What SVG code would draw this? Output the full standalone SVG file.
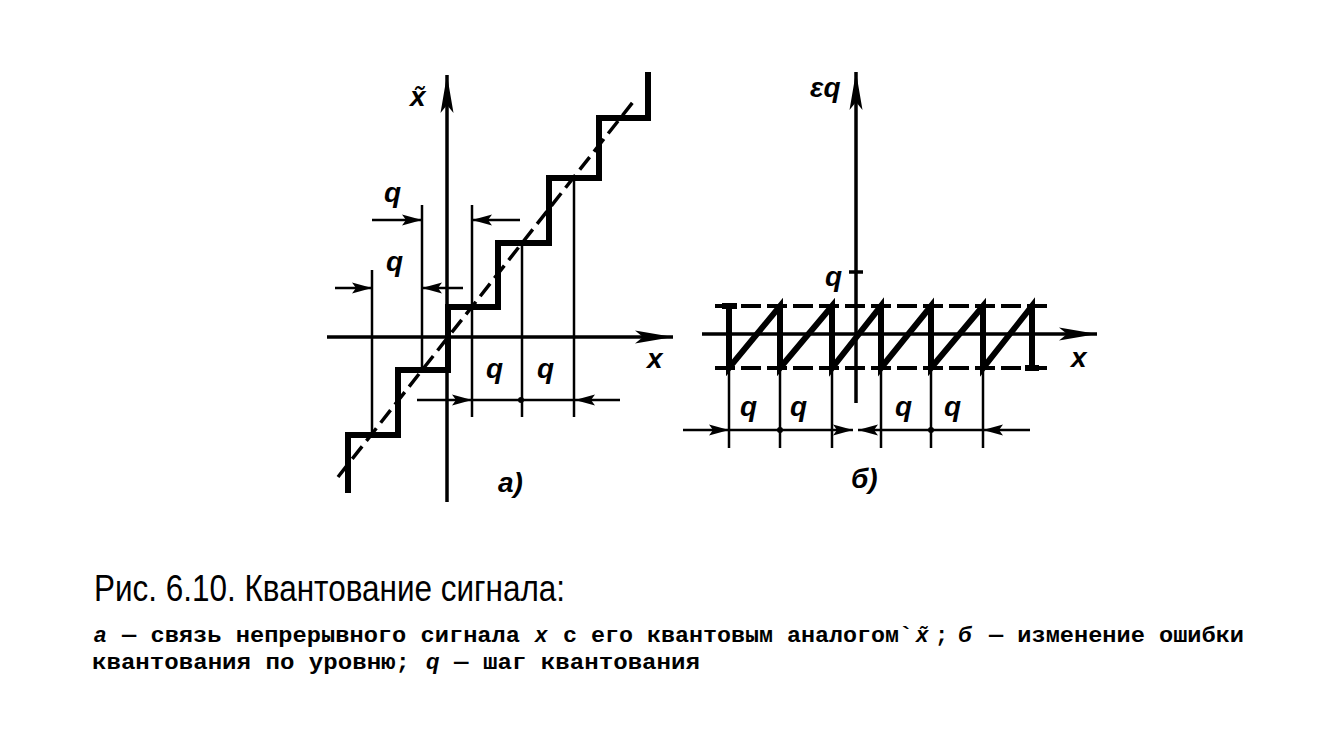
<svg xmlns="http://www.w3.org/2000/svg" width="1342" height="736" viewBox="0 0 1342 736">
<defs>
<style>
.bg{fill:#fff}
.thick{fill:none;stroke:#000;stroke-width:6;stroke-linejoin:miter;stroke-linecap:butt}
.axis{fill:none;stroke:#000;stroke-width:3.5}
.thin{fill:none;stroke:#000;stroke-width:2.5}
.dash{fill:none;stroke:#000;stroke-width:3.5;stroke-dasharray:16 7}
.dashb{fill:none;stroke:#000;stroke-width:4;stroke-dasharray:20 6}
.lbl{font-family:"Liberation Sans",Arial,sans-serif;font-style:italic;font-weight:bold;font-size:28px;fill:#000}
.cap1{font-family:"Liberation Sans",Arial,sans-serif;font-size:36px;fill:#000}
.cap{font-family:"Liberation Mono","Courier New",monospace;font-weight:bold;font-size:22px;fill:#000}
.it{font-family:"Liberation Sans",Arial,sans-serif;font-style:italic;font-weight:bold;font-size:22px;fill:#000}
</style>
<marker id="axArrow" markerUnits="userSpaceOnUse" markerWidth="44" markerHeight="16" refX="40" refY="8" orient="auto">
<path d="M40,8 L2,1.5 L10,8 L2,14.5 Z" fill="#000"/>
</marker>
<marker id="dimArrow" markerUnits="userSpaceOnUse" markerWidth="24" markerHeight="14" refX="22" refY="7" orient="auto">
<path d="M22,7 L2,1.5 L6,7 L2,12.5 Z" fill="#000"/>
</marker>
</defs>
<rect class="bg" x="0" y="0" width="1342" height="736"/>

<g id="diagram-a">
<g id="a-axes">
<line class="axis" x1="327" y1="337" x2="673" y2="337" marker-end="url(#axArrow)"/>
<line class="axis" x1="447" y1="502" x2="447" y2="75" marker-end="url(#axArrow)"/>
</g>
<g id="a-staircase">
<path class="thick" d="M348,493 V435 H398 V370 H448 V307 H498 V243 H549 V178 H599 V118 H648 V72"/>
</g>
<g id="a-line">
<line class="dash" x1="338" y1="477" x2="633" y2="102"/>
</g>
<g id="a-grid">
<line class="thin" x1="372" y1="270" x2="372" y2="435"/>
<line class="thin" x1="422" y1="205" x2="422" y2="370"/>
<line class="thin" x1="472" y1="205" x2="472" y2="417"/>
<line class="thin" x1="522" y1="243" x2="522" y2="417"/>
<line class="thin" x1="574" y1="178" x2="574" y2="417"/>
</g>
<g id="a-dims">
<line class="thin" x1="372" y1="220" x2="422" y2="220" marker-end="url(#dimArrow)"/>
<line class="thin" x1="520" y1="220" x2="472" y2="220" marker-end="url(#dimArrow)"/>
<line class="thin" x1="335" y1="288" x2="372" y2="288" marker-end="url(#dimArrow)"/>
<line class="thin" x1="463" y1="288" x2="422" y2="288" marker-end="url(#dimArrow)"/>
<line class="thin" x1="417" y1="400" x2="472" y2="400" marker-end="url(#dimArrow)"/>
<line class="thin" x1="472" y1="400" x2="575" y2="400"/>
<line class="thin" x1="620" y1="400" x2="575" y2="400" marker-end="url(#dimArrow)"/>
<circle cx="521" cy="400" r="3" fill="#000"/>
</g>
<g id="a-labels">
<text class="lbl" x="410" y="106">x̃</text>
<text class="lbl" x="384" y="202">q</text>
<text class="lbl" x="386" y="271">q</text>
<text class="lbl" x="486" y="378">q</text>
<text class="lbl" x="537" y="378">q</text>
<text class="lbl" x="647" y="368">x</text>
<text class="lbl" x="498" y="492" font-size="30">а)</text>
</g>
</g>

<g id="diagram-b">
<g id="b-axes">
<line class="axis" x1="702" y1="334" x2="1097" y2="334" marker-end="url(#axArrow)"/>
<line class="axis" x1="856" y1="403" x2="856" y2="72" marker-end="url(#axArrow)"/>
<line class="axis" x1="849" y1="272" x2="863" y2="272"/>
</g>
<g id="b-bounds">
<line class="dashb" x1="715" y1="306" x2="1047" y2="306"/>
<line class="dashb" x1="715" y1="368" x2="1047" y2="368"/>
</g>
<g id="b-sawtooth">
<path class="thick" d="M729,306 V368 L780,306 V368 L832,306 V368 L881,306 V368 L931,306 V368 L983,306 V368 L1032,306 V368"/>
<line class="thick" x1="722" y1="306" x2="737" y2="306"/>
<line class="thick" x1="1025" y1="368" x2="1039" y2="368"/>
</g>
<g id="b-grid">
<line class="thin" x1="729" y1="368" x2="729" y2="448"/>
<line class="thin" x1="780" y1="368" x2="780" y2="448"/>
<line class="thin" x1="832" y1="368" x2="832" y2="448"/>
<line class="thin" x1="881" y1="368" x2="881" y2="448"/>
<line class="thin" x1="931" y1="368" x2="931" y2="448"/>
<line class="thin" x1="983" y1="368" x2="983" y2="448"/>
</g>
<g id="b-dims">
<line class="thin" x1="683" y1="430" x2="729" y2="430" marker-end="url(#dimArrow)"/>
<line class="thin" x1="729" y1="430" x2="853" y2="430" marker-end="url(#dimArrow)"/>
<line class="thin" x1="881" y1="430" x2="858" y2="430" marker-end="url(#dimArrow)"/>
<line class="thin" x1="881" y1="430" x2="983" y2="430"/>
<line class="thin" x1="1030" y1="430" x2="983" y2="430" marker-end="url(#dimArrow)"/>
<circle cx="780" cy="430" r="3" fill="#000"/>
<circle cx="931" cy="430" r="3" fill="#000"/>
</g>
<g id="b-labels">
<text class="lbl" x="810" y="97">εq</text>
<text class="lbl" x="825" y="286">q</text>
<text class="lbl" x="740" y="416">q</text>
<text class="lbl" x="790" y="416">q</text>
<text class="lbl" x="895" y="416">q</text>
<text class="lbl" x="944" y="416">q</text>
<text class="lbl" x="1071" y="367">x</text>
<text class="lbl" x="851" y="488" font-size="32">б)</text>
</g>
</g>

<g id="caption">
<text class="cap1" x="94" y="601" textLength="471" lengthAdjust="spacingAndGlyphs">Рис. 6.10. Квантование сигнала:</text>
<text class="it" x="94" y="642">а</text>
<text class="cap" x="122" y="642" textLength="398" lengthAdjust="spacingAndGlyphs">— связь непрерывного сигнала</text>
<text class="it" x="535" y="642">x</text>
<text class="cap" x="563" y="642" textLength="350" lengthAdjust="spacingAndGlyphs">с его квантовым аналогом`</text>
<text class="it" x="916" y="642">x̃</text>
<text class="cap" x="935" y="642">;</text>
<text class="it" x="958" y="642">б</text>
<text class="cap" x="989" y="642" textLength="255" lengthAdjust="spacingAndGlyphs">— изменение ошибки</text>
<text class="cap" x="92" y="669" textLength="318" lengthAdjust="spacingAndGlyphs">квантования по уровню;</text>
<text class="it" x="426" y="669">q</text>
<text class="cap" x="454" y="669" textLength="246" lengthAdjust="spacingAndGlyphs">— шаг квантования</text>
</g>
</svg>
